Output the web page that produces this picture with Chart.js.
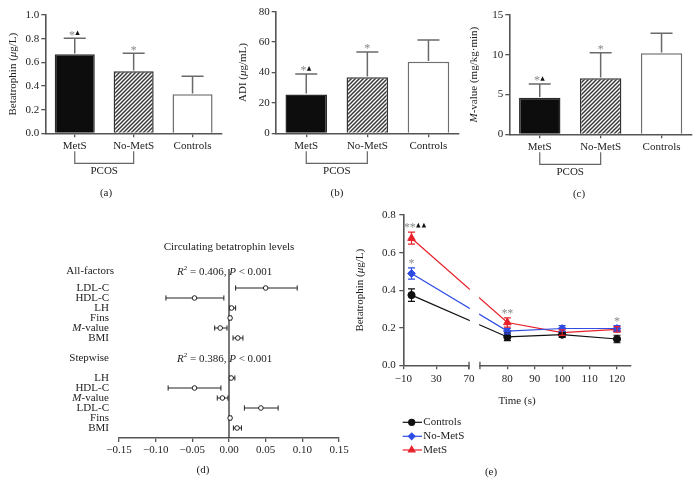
<!DOCTYPE html>
<html><head><meta charset="utf-8">
<script src="https://cdn.jsdelivr.net/npm/chart.js@4/dist/chart.umd.min.js"></script>
<style>
html,body{margin:0;padding:0;background:#fff;}
body{width:698px;height:493px;position:relative;overflow:hidden;}
canvas{position:absolute;}
</style></head><body>
<canvas id="cA" style="left:0;top:0" width="230" height="205"></canvas>
<canvas id="cB" style="left:230px;top:0" width="230" height="205"></canvas>
<canvas id="cC" style="left:460px;top:0" width="238" height="205"></canvas>
<canvas id="cD" style="left:0;top:235px" width="360" height="258"></canvas>
<canvas id="cE" style="left:350px;top:205px" width="348" height="288"></canvas>
<script>
// ---------------- data: panels (a)-(c) ----------------
const groupLabels = ['MetS', 'No-MetS', 'Controls'];
const groupMarks = ['*▲', '*', ''];
const pcosGroups = ['MetS', 'No-MetS'];
const bracketLabel = 'PCOS';
const betatrophinMean = [0.668, 0.524, 0.330];
const betatrophinSD = [0.135, 0.152, 0.152];
const betatrophinTicks = [0, 0.2, 0.4, 0.6, 0.8, 1.0];
const adiMean = [25.6, 36.8, 47.1];
const adiSD = [13.4, 16.7, 14.3];
const adiTicks = [0, 20, 40, 60, 80];
const mValueMean = [4.6, 7.04, 10.18];
const mValueSD = [1.72, 3.22, 2.52];
const mValueTicks = [0, 5, 10, 15];

// ---------------- data: panel (d) ----------------
const forestTitle = 'Circulating betatrophin levels';
const forestTicks = [-0.15, -0.10, -0.05, 0, 0.05, 0.10, 0.15];
const allFactorNames = ['LDL-C', 'HDL-C', 'LH', 'Fins', 'M-value', 'BMI'];
const allFactorEst = [0.050, -0.047, 0.0035, 0.0015, -0.012, 0.012];
const allFactorLow = [0.009, -0.086, 0.001, 0.000, -0.0195, 0.0055];
const allFactorHigh = [0.093, -0.007, 0.009, 0.003, -0.0027, 0.019];
const allFactorR2 = '0.406';
const stepwiseNames = ['LH', 'HDL-C', 'M-value', 'LDL-C', 'Fins', 'BMI'];
const stepwiseEst = [0.003, -0.047, -0.009, 0.0435, 0.0015, 0.011];
const stepwiseLow = [0.001, -0.083, -0.016, 0.021, 0.000, 0.006];
const stepwiseHigh = [0.008, -0.011, -0.0014, 0.067, 0.003, 0.017];
const stepwiseR2 = '0.386';
const modelP = '0.001';

// ---------------- data: panel (e) ----------------
const timePoints = [0, 80, 100, 120];
const timeTicks = [-10, 30, 70, 80, 90, 100, 110, 120];
const seriesNames = ['Controls', 'No-MetS', 'MetS'];
const controlsMean = [0.374, 0.151, 0.163, 0.140];
const controlsErr = [0.033, 0.020, 0.015, 0.020];
const noMetSMean = [0.489, 0.182, 0.196, 0.196];
const noMetSErr = [0.030, 0.015, 0.015, 0.015];
const metSMean = [0.677, 0.228, 0.174, 0.191];
const metSErr = [0.032, 0.025, 0.015, 0.015];
const controlsMarks = ['', '', '', ''];
const noMetSMarks = ['*', '', '', ''];
const metSMarks = ['**▲▲', '**', '', '*'];
const betaTimeTicks = [0, 0.2, 0.4, 0.6, 0.8];

// ---------------- common style ----------------
const SERIF = '"Liberation Serif", "DejaVu Serif", "Times New Roman", serif';
const AXIS = '#555';
const TXT = '#222';
const ERR = '#6a6a6a';
Chart.defaults.font.family = SERIF;
Chart.defaults.font.size = 11;
Chart.defaults.color = TXT;
Chart.defaults.animation = false;
Chart.defaults.events = [];
Chart.defaults.plugins.legend.display = false;
Chart.defaults.plugins.tooltip.enabled = false;

const minus = s => String(s).replace('-', '\u2212');

// rich text: _x_ italic, ^x^ superscript
function parseRich(s) {
  return s.split(/(_[^_]+_|\^[^^]+\^)/).filter(Boolean).map(p => {
    if (p[0] === '_') return { t: p.slice(1, -1), i: true };
    if (p[0] === '^') return { t: p.slice(1, -1), sup: true };
    return { t: p };
  });
}
function drawRich(ctx, s, x, y, o = {}) {
  const parts = parseRich(s);
  const size = o.size || 11;
  const font = p => (p.i ? 'italic ' : '') + (p.sup ? Math.round(size * 0.65) : size) + 'px ' + SERIF;
  let w = 0;
  const ws = parts.map(p => { ctx.font = font(p); const m = ctx.measureText(p.t).width; w += m; return m; });
  ctx.save();
  ctx.translate(x, y);
  if (o.rotate) ctx.rotate(o.rotate);
  let cx = o.align === 'left' ? 0 : (o.align === 'right' ? -w : -w / 2);
  ctx.textAlign = 'left'; ctx.textBaseline = 'middle'; ctx.fillStyle = o.color || TXT;
  parts.forEach((p, k) => { ctx.font = font(p); ctx.fillText(p.t, cx, p.sup ? -size * 0.33 : 0); cx += ws[k]; });
  ctx.restore();
}
const richLabel = s => s.replace(/^M-value/, '_M_-value');

// significance marks: '*' grey asterisk, '▲' black triangle, centred at (x,y)
function drawMarks(ctx, str, x, y) {
  const chars = [...str];
  const cw = c => (c === '*' ? 5.6 : 5.6);
  const total = chars.reduce((s, c) => s + cw(c), 0);
  let cx = x - total / 2;
  ctx.save();
  chars.forEach(c => {
    if (c === '*') {
      ctx.font = '12px ' + SERIF; ctx.fillStyle = '#8a8a8a';
      ctx.textAlign = 'center'; ctx.textBaseline = 'alphabetic';
      ctx.fillText('*', cx + cw(c) / 2, y + 5.8);
    } else {
      ctx.fillStyle = '#111';
      ctx.beginPath();
      ctx.moveTo(cx + cw(c) / 2, y - 2.4);
      ctx.lineTo(cx + cw(c) - 0.6, y + 2.2);
      ctx.lineTo(cx + 0.6, y + 2.2);
      ctx.closePath(); ctx.fill();
    }
    cx += cw(c);
  });
  ctx.restore();
}

function makeHatch() {
  const c = document.createElement('canvas'); c.width = 4; c.height = 4;
  const x = c.getContext('2d');
  x.fillStyle = '#fff'; x.fillRect(0, 0, 4, 4);
  x.strokeStyle = '#3a3a3a'; x.lineWidth = 1.5;
  x.beginPath();
  x.moveTo(-1, 5); x.lineTo(5, -1);
  x.moveTo(-1, 1); x.lineTo(1, -1);
  x.moveTo(3, 5); x.lineTo(5, 3);
  x.stroke();
  return x.createPattern(c, 'repeat');
}

const axisGrid = { display: true, drawOnChartArea: false, drawTicks: true, tickLength: 4, color: AXIS, lineWidth: 1.3 };
const axisBorder = { display: true, color: AXIS, width: 1.6 };

// ---------------- bar panels ----------------
function barPanel(id, cfg) {
  const cv = document.getElementById(id);
  const W = cv.width, H = cv.height, A = cfg.area;
  return new Chart(cv, {
    type: 'bar',
    data: {
      labels: groupLabels,
      datasets: [{
        data: cfg.mean,
        backgroundColor: ['#0d0d0d', makeHatch(), '#ffffff'],
        borderColor: ['#2a2a2a', '#333', '#6e6e6e'],
        borderWidth: 1.5,
        borderSkipped: 'bottom',
        barPercentage: 0.68,
        categoryPercentage: 1
      }]
    },
    options: {
      responsive: false,
      layout: { padding: { left: 0, bottom: 0, top: A.t, right: W - A.r } },
      scales: {
        x: {
          type: 'category', offset: true,
          grid: Object.assign({}, axisGrid, { offset: false }),
          border: axisBorder,
          ticks: { padding: 2, maxRotation: 0, autoSkip: false, color: TXT, font: { size: 11 } },
          afterFit: s => { s.height = H - A.b; }
        },
        y: {
          min: 0, max: cfg.ticks[cfg.ticks.length - 1],
          grid: axisGrid, border: axisBorder,
          ticks: { padding: 2, color: TXT, font: { size: 11 }, callback: cfg.fmt },
          afterBuildTicks: s => { s.ticks = cfg.ticks.map(v => ({ value: v })); },
          afterFit: s => { s.width = A.l; }
        }
      }
    },
    plugins: [{
      id: 'barExtras',
      afterDatasetsDraw(chart) {
        const ctx = chart.ctx, ys = chart.scales.y, xs = chart.scales.x, ca = chart.chartArea;
        const meta = chart.getDatasetMeta(0);
        ctx.save();
        ctx.strokeStyle = ERR; ctx.lineWidth = 1.5;
        meta.data.forEach((bar, i) => {
          const yTop = ys.getPixelForValue(cfg.mean[i]);
          const yErr = ys.getPixelForValue(cfg.mean[i] + cfg.sd[i]);
          ctx.beginPath();
          ctx.moveTo(bar.x, yTop - 0.8); ctx.lineTo(bar.x, yErr);
          ctx.moveTo(bar.x - 11, yErr); ctx.lineTo(bar.x + 11, yErr);
          ctx.stroke();
          if (groupMarks[i]) drawMarks(ctx, groupMarks[i], bar.x, yErr - 5.5);
        });
        // PCOS bracket
        const xa = xs.getPixelForValue(groupLabels.indexOf(pcosGroups[0]));
        const xb = xs.getPixelForValue(groupLabels.indexOf(pcosGroups[1]));
        const y1 = ca.bottom + 18, y2 = ca.bottom + 30;
        ctx.strokeStyle = '#666'; ctx.lineWidth = 1.2;
        ctx.beginPath();
        ctx.moveTo(xa, y1); ctx.lineTo(xa, y2); ctx.lineTo(xb, y2); ctx.lineTo(xb, y1);
        ctx.stroke();
        drawRich(ctx, bracketLabel, (xa + xb) / 2, ca.bottom + 38);
        drawRich(ctx, cfg.caption, cfg.captionX, ca.bottom + 59.4);
        drawRich(ctx, cfg.title, cfg.titleX, (ca.top + ca.bottom) / 2, { rotate: -Math.PI / 2 });
        ctx.restore();
      }
    }]
  });
}

barPanel('cA', {
  mean: betatrophinMean, sd: betatrophinSD, ticks: betatrophinTicks,
  fmt: v => v.toFixed(1), area: { l: 45.3, t: 15, r: 222, b: 133.3 },
  title: 'Betatrophin (_μ_g/L)', titleX: 13, caption: '(a)', captionX: 106
});
barPanel('cB', {
  mean: adiMean, sd: adiSD, ticks: adiTicks,
  fmt: v => String(v), area: { l: 45.7, t: 11.7, r: 229, b: 133.3 },
  title: 'ADI (_μ_g/mL)', titleX: 13.3, caption: '(b)', captionX: 107
});
barPanel('cC', {
  mean: mValueMean, sd: mValueSD, ticks: mValueTicks,
  fmt: v => String(v), area: { l: 49.3, t: 15, r: 232, b: 134.3 },
  title: '_M_-value (mg/kg·min)', titleX: 14, caption: '(c)', captionX: 119
});

// ---------------- forest panel (d) ----------------
(function () {
  const cv = document.getElementById('cD');
  const W = cv.width, H = cv.height;
  const A = { l: 119, t: 33, r: 339, b: 203 };
  const models = [
    { header: 'All-factors', headerX: 114, r2: allFactorR2, names: allFactorNames, est: allFactorEst, low: allFactorLow, high: allFactorHigh, headerRow: 0.3, firstRow: 2 },
    { header: 'Stepwise', headerX: 109, r2: stepwiseR2, names: stepwiseNames, est: stepwiseEst, low: stepwiseLow, high: stepwiseHigh, headerRow: 9, firstRow: 11 }
  ];
  new Chart(cv, {
    type: 'scatter',
    data: {
      datasets: models.map(m => ({
        data: m.est.map((v, i) => ({ x: v, y: m.firstRow + i })),
        pointStyle: 'circle', pointRadius: 2.3, pointBorderWidth: 1,
        backgroundColor: '#fff', borderColor: '#222'
      }))
    },
    options: {
      responsive: false,
      layout: { padding: { left: A.l, top: A.t, right: W - A.r, bottom: 0 } },
      scales: {
        x: {
          type: 'linear', min: forestTicks[0], max: forestTicks[forestTicks.length - 1],
          grid: axisGrid, border: axisBorder,
          ticks: { padding: 1.5, autoSkip: false, maxRotation: 0, color: TXT, font: { size: 11 },
            callback: v => (Math.abs(v) < 1e-9 ? '0.00' : minus(v.toFixed(2))) },
          afterBuildTicks: s => { s.ticks = forestTicks.map(v => ({ value: v })); },
          afterFit: s => { s.height = H - A.b; }
        },
        y: { type: 'linear', display: false, reverse: true, min: 0, max: 17 }
      }
    },
    plugins: [{
      id: 'forestExtras',
      beforeDatasetsDraw(chart) {
        const ctx = chart.ctx, xs = chart.scales.x, ys = chart.scales.y, ca = chart.chartArea;
        ctx.save();
        ctx.strokeStyle = '#333'; ctx.lineWidth = 1.3;
        const x0 = xs.getPixelForValue(0);
        ctx.beginPath(); ctx.moveTo(x0, ys.getPixelForValue(0.1)); ctx.lineTo(x0, ca.bottom); ctx.stroke();
        ctx.strokeStyle = '#222'; ctx.lineWidth = 1;
        models.forEach(m => m.est.forEach((v, i) => {
          const y = ys.getPixelForValue(m.firstRow + i);
          const xl = xs.getPixelForValue(m.low[i]), xh = xs.getPixelForValue(m.high[i]);
          ctx.beginPath();
          ctx.moveTo(xl, y); ctx.lineTo(xh, y);
          ctx.moveTo(xl, y - 2.6); ctx.lineTo(xl, y + 2.6);
          ctx.moveTo(xh, y - 2.6); ctx.lineTo(xh, y + 2.6);
          ctx.stroke();
        }));
        ctx.restore();
      },
      afterDraw(chart) {
        const ctx = chart.ctx, xs = chart.scales.x, ys = chart.scales.y, ca = chart.chartArea;
        const x0 = xs.getPixelForValue(0);
        drawRich(ctx, forestTitle, x0, ca.top - 21);
        models.forEach(m => {
          const yh = ys.getPixelForValue(m.headerRow);
          drawRich(ctx, m.header, m.headerX, yh, { align: 'right' });
          drawRich(ctx, '_R_^2^ = ' + m.r2 + ', _P_ < ' + modelP, 177, yh + 1, { align: 'left' });
          m.names.forEach((n, i) => drawRich(ctx, richLabel(n), 109, ys.getPixelForValue(m.firstRow + i), { align: 'right' }));
        });
        drawRich(ctx, '(d)', 203, ca.bottom + 32);
      }
    }]
  });
})();

// ---------------- broken linear scale for panel (e) ----------------
const BRK = { lo: -10, at: 70, hi: 125, seg1: 0.289, gap: 0.048 };
class BrokenLinearScale extends Chart.LinearScale {
  getPixelForValue(v) {
    if (v === null || v === undefined || isNaN(v)) return NaN;
    let f;
    if (v <= BRK.at) f = (v - BRK.lo) / (BRK.at - BRK.lo) * BRK.seg1;
    else f = BRK.seg1 + BRK.gap + (v - BRK.at) / (BRK.hi - BRK.at) * (1 - BRK.seg1 - BRK.gap);
    return this.getPixelForDecimal(f);
  }
  getValueForPixel(p) {
    const f = this.getDecimalForPixel(p);
    if (f <= BRK.seg1) return BRK.lo + f / BRK.seg1 * (BRK.at - BRK.lo);
    return BRK.at + (f - BRK.seg1 - BRK.gap) / (1 - BRK.seg1 - BRK.gap) * (BRK.hi - BRK.at);
  }
}
BrokenLinearScale.id = 'brokenLinear';
BrokenLinearScale.defaults = {};
Chart.registry.addScales(BrokenLinearScale);

// ---------------- line panel (e) ----------------
(function () {
  const cv = document.getElementById('cE');
  const W = cv.width, H = cv.height;
  const A = { l: 53.3, t: 8.3, r: 280.7, b: 160.3 };
  const series = [
    { name: seriesNames[0], mean: controlsMean, err: controlsErr, marks: controlsMarks, color: '#111111', style: 'circle', r: 3.6 },
    { name: seriesNames[1], mean: noMetSMean, err: noMetSErr, marks: noMetSMarks, color: '#2f4ce3', style: 'rectRot', r: 3.9 },
    { name: seriesNames[2], mean: metSMean, err: metSErr, marks: metSMarks, color: '#e8202a', style: 'triangle', r: 4.4 }
  ];
  new Chart(cv, {
    type: 'line',
    data: {
      datasets: series.map(s => ({
        label: s.name,
        data: timePoints.map((t, i) => ({ x: t, y: s.mean[i] })),
        borderColor: s.color, backgroundColor: s.color,
        borderWidth: 1.2, pointStyle: s.style, pointRadius: s.r, pointBorderWidth: 1,
        tension: 0, fill: false
      }))
    },
    options: {
      responsive: false,
      layout: { padding: { left: 0, bottom: 0, top: A.t, right: W - A.r } },
      scales: {
        x: {
          type: 'brokenLinear', min: BRK.lo, max: BRK.hi,
          grid: axisGrid, border: axisBorder,
          ticks: { padding: 3.5, autoSkip: false, maxRotation: 0, color: TXT, font: { size: 11 }, callback: v => minus(v) },
          afterBuildTicks: s => { s.ticks = timeTicks.map(v => ({ value: v })); },
          afterFit: s => { s.height = H - A.b; }
        },
        y: {
          type: 'linear', min: 0, max: betaTimeTicks[betaTimeTicks.length - 1],
          grid: axisGrid, border: axisBorder,
          ticks: { padding: 3.5, color: TXT, font: { size: 11 }, callback: v => v.toFixed(1) },
          afterBuildTicks: s => { s.ticks = betaTimeTicks.map(v => ({ value: v })); },
          afterFit: s => { s.width = A.l; }
        }
      }
    },
    plugins: [{
      id: 'timeExtras',
      afterDatasetsDraw(chart) {
        const ctx = chart.ctx, xs = chart.scales.x, ys = chart.scales.y, ca = chart.chartArea;
        ctx.save();
        // error bars
        series.forEach(s => {
          ctx.strokeStyle = s.color; ctx.lineWidth = 1.2;
          timePoints.forEach((t, i) => {
            const x = xs.getPixelForValue(t);
            const yl = ys.getPixelForValue(s.mean[i] - s.err[i]), yh = ys.getPixelForValue(s.mean[i] + s.err[i]);
            ctx.beginPath();
            ctx.moveTo(x, yl); ctx.lineTo(x, yh);
            ctx.moveTo(x - 3.5, yl); ctx.lineTo(x + 3.5, yl);
            ctx.moveTo(x - 3.5, yh); ctx.lineTo(x + 3.5, yh);
            ctx.stroke();
          });
        });
        // axis break gap
        const gl = xs.getPixelForDecimal(BRK.seg1), gr = xs.getPixelForDecimal(BRK.seg1 + BRK.gap);
        ctx.fillStyle = '#fff';
        ctx.fillRect(gl + 0.8, ca.top, gr - gl - 1.6, ca.bottom - ca.top + 2.5);
        ctx.strokeStyle = AXIS; ctx.lineWidth = 1.3;
        ctx.beginPath();
        ctx.moveTo(gl, ca.bottom - 3.5); ctx.lineTo(gl, ca.bottom + 4);
        ctx.moveTo(gr, ca.bottom - 3.5); ctx.lineTo(gr, ca.bottom + 4);
        ctx.stroke();
        // significance marks
        series.forEach(s => s.marks.forEach((mk, i) => {
          if (!mk) return;
          drawMarks(ctx, mk, xs.getPixelForValue(timePoints[i]) + (mk.length > 2 ? 4 : 0), ys.getPixelForValue(s.mean[i] + s.err[i]) - 7);
        }));
        ctx.restore();
      },
      afterDraw(chart) {
        const ctx = chart.ctx, ca = chart.chartArea;
        drawRich(ctx, 'Betatrophin (_μ_g/L)', 10, (ca.top + ca.bottom) / 2, { rotate: -Math.PI / 2 });
        drawRich(ctx, 'Time (s)', (ca.left + ca.right) / 2, ca.bottom + 36);
        // legend
        const rows = [57, 71, 84.7];
        series.forEach((s, k) => {
          const y = ca.bottom + rows[k];
          ctx.save();
          ctx.strokeStyle = s.color; ctx.fillStyle = s.color; ctx.lineWidth = 1.2;
          ctx.beginPath(); ctx.moveTo(ca.left - 0.6, y); ctx.lineTo(ca.left + 18.7, y); ctx.stroke();
          Chart.helpers.drawPoint(ctx, { pointStyle: s.style, radius: s.r * 0.85, borderWidth: 1, rotation: 0 }, ca.left + 8.4, y);
          ctx.restore();
          drawRich(ctx, s.name, ca.left + 20, y, { align: 'left' });
        });
        drawRich(ctx, '(e)', ca.left + 87.7, ca.bottom + 106.4);
      }
    }]
  });
})();
</script>
</body></html>
